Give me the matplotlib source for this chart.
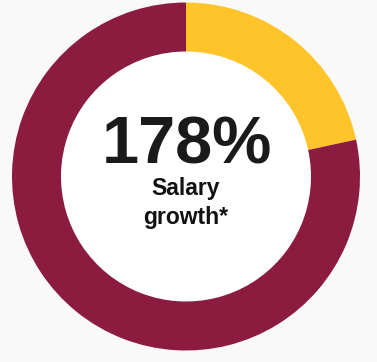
import matplotlib.pyplot as plt
from matplotlib.patches import Circle

# donut shares (percent of the ring)
labels = ['Highlight', 'Rest']
shares = [21.6, 78.4]
ring_colors = ['#fec429', '#8b1c40']

headline = '178%'
caption_lines = ['Salary', 'growth*']

W, H = 377, 362
cx, cy = 186, H - 176.5
r_out, r_in = 174, 125

fig = plt.figure(figsize=(W / 100, H / 100), dpi=100, facecolor='#f9f9f9')
ax = fig.add_axes([0, 0, 1, 1])

# white hole behind the ring
ax.add_patch(Circle((cx, cy), r_in, facecolor='white', edgecolor='none', zorder=0))
ax.pie(shares, colors=ring_colors, startangle=90, counterclock=False,
       center=(cx, cy), radius=r_out, frame=True,
       wedgeprops=dict(width=r_out - r_in, linewidth=0))

ax.text(cx + 1, H - 163, headline, ha='center', va='baseline',
        fontsize=48, fontweight='bold', color='#1a1a1a', family='Liberation Sans')
for i, line in enumerate(caption_lines):
    ax.text(cx, H - 195 - 29 * i, line, ha='center', va='baseline',
            fontsize=16.5, fontweight='bold', color='#111111', family='Liberation Sans')

ax.set_xlim(0, W)
ax.set_ylim(0, H)
ax.set_aspect('equal')
ax.axis('off')

fig.savefig('out.png', dpi=100, facecolor=fig.get_facecolor())
